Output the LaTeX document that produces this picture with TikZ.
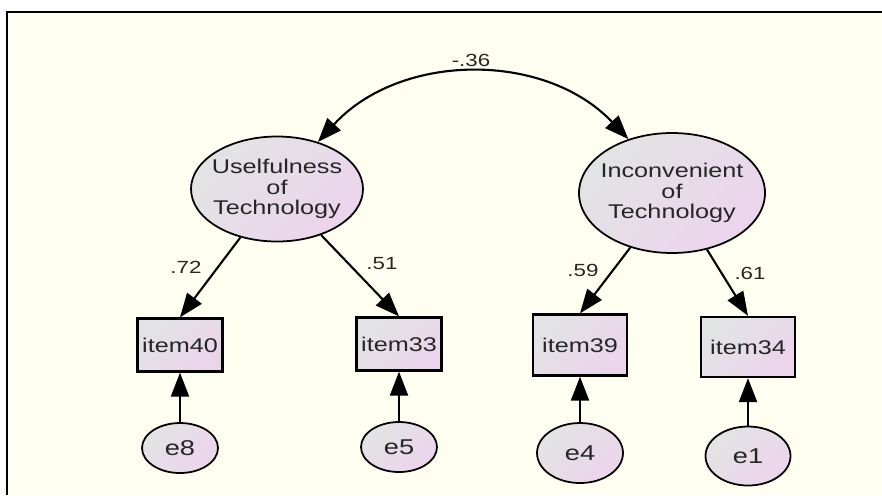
\documentclass[tikz,border=0pt]{standalone}
\usepackage{fontspec}
\setmainfont{Liberation Sans}[FakeStretch=1.27]
\usetikzlibrary{arrows.meta,shapes.geometric}
\definecolor{semcream}{RGB}{254,255,240}
\definecolor{semgray}{RGB}{226,228,228}
\definecolor{sempink}{RGB}{236,212,236}

\begin{document}
\begin{tikzpicture}[x=0.2mm,y=0.2mm]
\tikzset{
  latent/.style={ellipse, draw, line width=1pt, top color=semgray, bottom color=sempink, shading angle=45,
    align=center, inner xsep=-2mm, inner ysep=0pt, text=black!85, font=\fontsize{11.3}{11.6}\selectfont},
  observed/.style={rectangle, draw, line width=1.3pt, top color=semgray, bottom color=sempink, shading angle=45,
    inner sep=0pt, minimum width=17mm, minimum height=10.6mm, text=black!85, font=\fontsize{11.3}{12}\selectfont},
  error/.style={latent, minimum width=15.2mm, minimum height=10mm, font=\fontsize{12.2}{13}\selectfont},
  path/.style={line width=1.2pt, -{Triangle[length=4.8mm,width=3.6mm]}},
  coef/.style={inner sep=0pt, text=black!85, font=\fontsize{10}{11}\selectfont}
}
\useasboundingbox (0,0) rectangle (882,-495);
\fill[white] (0,0) rectangle (882,-495);
\fill[semcream] (7,-12) rectangle (882,-495);
\draw[line width=0.4mm] (7,-495) |- (882,-12);

% latent variables
\node[latent, minimum width=34.4mm, minimum height=21mm] (use) at (277,-189) {Uselfulness\\of\\Technology};
\node[latent, minimum width=37.2mm, minimum height=24mm] (inc) at (672,-193) {Inconvenient\\of\\Technology};

% observed items
\node[observed] (i40) at (180,-345) {item40};
\node[observed] (i33) at (399,-344) {item33};
\node[observed, minimum width=18.8mm, minimum height=12.2mm] (i39) at (580,-345) {item39};
\node[observed, minimum width=18.8mm, minimum height=12mm] (i34) at (748,-347) {item34};

% errors
\node[error] (e8) at (180,-448) {e8};
\node[error] (e5) at (399,-447) {e5};
\node[error, minimum width=17.2mm, minimum height=12mm] (e4) at (580,-453) {e4};
\node[error, minimum width=17mm, minimum height=11.8mm] (e1) at (748,-456) {e1};

% covariance
\draw[line width=1.2pt, {Triangle[length=4.8mm,width=3.6mm]}-{Triangle[length=4.8mm,width=3.6mm]}]
  (use.49) to[bend left=47] (inc.129);
\node[coef] (c36) at (471,-60) {-.36};

% loadings
\draw[path] (use) -- (i40.north);
\draw[path] (use) -- (i33.north);
\draw[path] (inc) -- (i39.north);
\draw[path] (inc) -- (i34.north);
\node[coef] (c72) at (186,-267) {.72};
\node[coef] (c51) at (382,-264) {.51};
\node[coef] (c59) at (583,-270) {.59};
\node[coef] (c61) at (750,-273) {.61};

% error paths
\draw[path] (e8) -- (i40);
\draw[path] (e5) -- (i33);
\draw[path] (e4) -- (i39);
\draw[path] (e1) -- (i34);
\end{tikzpicture}
\end{document}
